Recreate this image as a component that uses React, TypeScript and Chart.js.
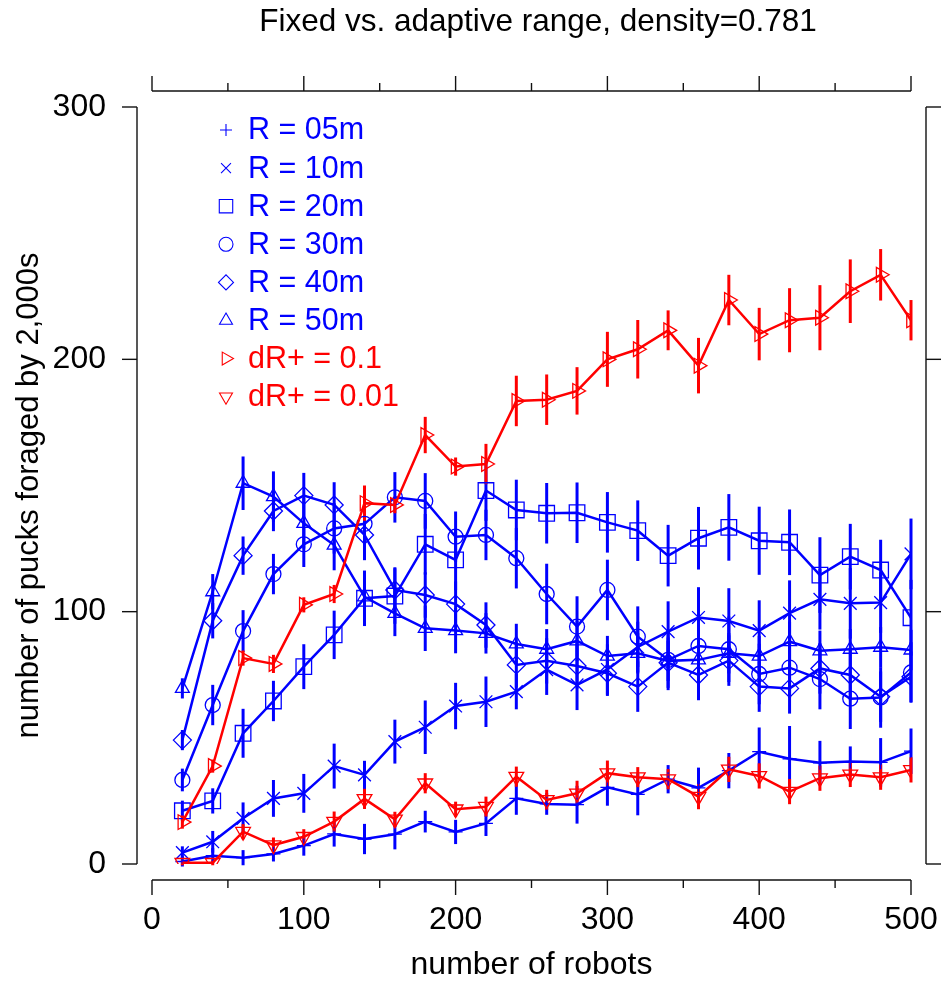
import React, { useEffect, useRef } from 'react';
import { Chart, registerables } from 'chart.js';

Chart.register(...registerables);

// ---------- data ----------
const robots = [20, 40, 60, 80, 100, 120, 140, 160, 180, 200, 220, 240, 260, 280, 300, 320, 340, 360, 380, 400, 420, 440, 460, 480, 500];

const r05 = [1, 3.3, 2.5, 4, 7.3, 11.9, 9.9, 11.8, 16.8, 12.7, 16.1, 26, 23.8, 23.5, 30.4, 27.6, 33.6, 30.2, 37, 44.5, 41.7, 40.1, 40.6, 40.3, 44.7];
const r10 = [4.5, 8.8, 18.1, 26, 28, 38.8, 35.3, 48.5, 54.2, 62.6, 64.3, 68.3, 77, 71, 77.1, 86, 92.1, 97.7, 96.3, 92.5, 99.4, 104.9, 103.3, 103.6, 122.9];
const r20 = [21.1, 25, 51.8, 64.6, 78.2, 90.8, 105.3, 106.2, 126.7, 120.5, 148, 140.3, 139, 139.2, 135.4, 132.1, 122.2, 129.1, 133.4, 128.1, 127.5, 114.5, 121.8, 116.5, 97.6];
const r30 = [33.3, 63, 92.3, 114.9, 126.7, 133, 134.8, 145.3, 143.9, 129.7, 130.4, 121.2, 107, 94.1, 108.6, 90.1, 80.9, 86.4, 85.1, 75.3, 77.8, 73.3, 65.5, 66, 75.9];
const r40 = [49.1, 96.4, 122.2, 139.9, 146, 142.3, 130.4, 108.6, 106.6, 103, 94.7, 78.9, 80.5, 78.5, 75.6, 70.3, 79.8, 74.9, 80.6, 70.3, 69.6, 77.5, 74.9, 66.3, 74.2];
const r50 = [69.6, 107.9, 150.9, 145.6, 135, 126.4, 105.9, 99.3, 93.4, 92.5, 91.4, 87.2, 85.1, 88.4, 82.4, 83.5, 80.5, 80.9, 83.5, 82.4, 88.1, 84.5, 85.1, 85.9, 84.8];
const dr1 = [16.6, 38.8, 81.6, 79.3, 102.7, 107, 143, 142.3, 170, 157.5, 158.5, 183.5, 184, 187.5, 200, 204, 211.5, 197.5, 223.5, 210, 215.5, 216.5, 227, 233.5, 215.5];
const dr01 = [0.5, 0.5, 12.8, 7.5, 10.8, 16.8, 25.8, 17.7, 32, 21.7, 22.7, 34.6, 25.4, 28, 36, 34.4, 33.6, 26.7, 37.5, 34.9, 28.7, 34, 35.5, 34.4, 37.3];

const e05 = [2, 3, 3, 3, 4, 5, 6, 6, 4.3, 4.8, 5, 6.5, 4.3, 7.5, 7.3, 8.3, 5.6, 8, 7, 9.6, 13, 8.7, 6, 9.6, 9];
const e10 = [2.5, 4.3, 6.3, 7.3, 7.7, 8.9, 5.6, 8.7, 10.6, 9.2, 10, 7, 10, 10, 10, 10, 12, 12, 13, 12, 13, 12, 14, 12, 14];
const e20 = [4, 5, 9.7, 8, 8.9, 9.6, 11, 11, 12, 12, 12, 12, 12, 12, 12, 12, 12.2, 12.4, 13.2, 13.5, 13, 15, 13, 12, 15];
const e30 = [4.5, 8, 8.3, 8, 9, 10, 10, 10, 11, 10, 10, 12, 12, 12, 12, 12, 12, 12, 13, 12, 12, 12, 12, 12, 12];
const e40 = [4, 7, 7.6, 8, 9, 9, 10, 9, 9, 9, 9, 9, 9, 9, 9, 10, 10, 10, 10, 10, 10, 10, 10, 10, 10];
const e50 = [4, 7, 10.6, 10, 10, 10, 10, 9, 9, 9, 8, 8, 8, 8, 8, 8, 8, 8, 8, 8, 8, 8, 8, 8, 8];
const edr1 = [2.6, 2.6, 3, 3.6, 3, 3.6, 7, 3.3, 7.2, 3.6, 8, 10, 10, 9.4, 10.9, 11.6, 7.9, 11, 10, 10.4, 12.7, 12.9, 12.6, 10.2, 8];
const edr01 = [1, 1, 3, 3, 3, 4, 4, 3, 4, 3, 4, 4, 4, 5, 5, 4, 4, 5, 5, 5, 5, 5, 5, 5, 5];

const seriesLabels = ['R = 05m', 'R = 10m', 'R = 20m', 'R = 30m', 'R = 40m', 'R = 50m', 'dR+ = 0.1', 'dR+ = 0.01'];
const seriesValues = [r05, r10, r20, r30, r40, r50, dr1, dr01];
const seriesErrors = [e05, e10, e20, e30, e40, e50, edr1, edr01];

const titleText = 'Fixed vs. adaptive range, density=0.781';
const xTitle = 'number of robots';
const yTitle = 'number of pucks foraged by 2,000s';

// ---------- styles ----------
const BLUE = '#0000ff';
const RED = '#ff0000';
const FONT = '"Liberation Sans", Arial, Helvetica, sans-serif';
const styles = [
  { color: BLUE, point: 'cross', radius: 7, rot: 0, lr: 6 },
  { color: BLUE, point: 'crossRot', radius: 9, rot: 0, lr: 7 },
  { color: BLUE, point: 'rect', radius: 11, rot: 0, lr: 9.5 },
  { color: BLUE, point: 'circle', radius: 7.5, rot: 0, lr: 7 },
  { color: BLUE, point: 'rectRot', radius: 9, rot: 0, lr: 7.5 },
  { color: BLUE, point: 'triangle', radius: 8, rot: 0, lr: 7.5 },
  { color: RED, point: 'triangle', radius: 8.5, rot: 90, lr: 7.5 },
  { color: RED, point: 'triangle', radius: 8.5, rot: 180, lr: 7.5 },
];

function drawMarker(ctx: CanvasRenderingContext2D, style: string, x: number, y: number, r: number, rotDeg: number) {
  ctx.beginPath();
  let rad = (rotDeg * Math.PI) / 180;
  switch (style) {
    case 'cross':
      ctx.moveTo(x - r, y); ctx.lineTo(x + r, y);
      ctx.moveTo(x, y - r); ctx.lineTo(x, y + r);
      break;
    case 'crossRot': {
      const d = r * Math.SQRT1_2;
      ctx.moveTo(x - d, y - d); ctx.lineTo(x + d, y + d);
      ctx.moveTo(x - d, y + d); ctx.lineTo(x + d, y - d);
      break;
    }
    case 'rect': {
      const s = r * Math.SQRT1_2;
      ctx.rect(x - s, y - s, 2 * s, 2 * s);
      break;
    }
    case 'circle':
      ctx.arc(x, y, r, 0, Math.PI * 2);
      break;
    case 'rectRot':
      ctx.moveTo(x - r, y); ctx.lineTo(x, y - r); ctx.lineTo(x + r, y); ctx.lineTo(x, y + r); ctx.closePath();
      break;
    case 'triangle':
      ctx.moveTo(x + Math.sin(rad) * r, y - Math.cos(rad) * r);
      rad += (2 * Math.PI) / 3;
      ctx.lineTo(x + Math.sin(rad) * r, y - Math.cos(rad) * r);
      rad += (2 * Math.PI) / 3;
      ctx.lineTo(x + Math.sin(rad) * r, y - Math.cos(rad) * r);
      ctx.closePath();
      break;
  }
  ctx.stroke();
}

const errorBarPlugin = {
  id: 'errorBars',
  beforeDatasetsDraw(chart: any) {
    const { ctx, scales } = chart;
    const xs = scales.x, ys = scales.y;
    ctx.save();
    ctx.lineWidth = 3;
    ctx.lineCap = 'butt';
    seriesValues.forEach((vals, i) => {
      ctx.strokeStyle = styles[i].color;
      const errs = seriesErrors[i];
      vals.forEach((v, j) => {
        const px = xs.getPixelForValue(robots[j]);
        ctx.beginPath();
        ctx.moveTo(px, ys.getPixelForValue(v - errs[j]));
        ctx.lineTo(px, ys.getPixelForValue(v + errs[j]));
        ctx.stroke();
      });
    });
    ctx.restore();
  },
};

const framePlugin = {
  id: 'frame',
  afterDraw(chart: any) {
    const { ctx, chartArea: ca, scales } = chart;
    const xs = scales.x, ys = scales.y;
    ctx.save();
    ctx.strokeStyle = '#111';
    ctx.lineWidth = 1.4;
    const gap = 16;
    const by = ca.bottom + gap, ty = ca.top - gap, lx = ca.left - 15, rx = ca.right + 15;
    const line = (a: number, b: number, c: number, d: number) => { ctx.beginPath(); ctx.moveTo(a, b); ctx.lineTo(c, d); ctx.stroke(); };
    // horizontal axes
    line(ca.left, by, ca.right, by);
    line(ca.left, ty, ca.right, ty);
    const xv = xs.ticks.map((t: any) => t.value);
    xv.forEach((v: number, k: number) => {
      const px = xs.getPixelForValue(v);
      line(px, by, px, by + 15);
      line(px, ty, px, ty - 15);
      if (k < xv.length - 1) {
        const mx = xs.getPixelForValue((v + xv[k + 1]) / 2);
        line(mx, by, mx, by + 8);
        line(mx, ty, mx, ty - 8);
      }
    });
    // vertical axes
    line(lx, ca.top, lx, ca.bottom);
    line(rx, ca.top, rx, ca.bottom);
    ys.ticks.forEach((t: any) => {
      const py = ys.getPixelForValue(t.value);
      line(lx, py, lx - 15, py);
      line(rx, py, rx + 15, py);
    });
    // title
    ctx.fillStyle = '#000';
    ctx.font = `31.5px ${FONT}`;
    ctx.textAlign = 'center';
    ctx.textBaseline = 'middle';
    ctx.fillText(titleText, 538, 22);
    // y axis title
    ctx.save();
    ctx.translate(29, (ca.top + ca.bottom) / 2 + 10);
    ctx.rotate(-Math.PI / 2);
    ctx.font = `31px ${FONT}`;
    ctx.fillText(yTitle, 0, 0);
    ctx.restore();
    // legend
    ctx.font = `30.5px ${FONT}`;
    ctx.textAlign = 'left';
    seriesLabels.forEach((lab, i) => {
      const cy = ca.top + 23 + i * 38.1;
      ctx.strokeStyle = styles[i].color;
      ctx.lineWidth = 1.1;
      drawMarker(ctx, styles[i].point, ca.left + 74, cy, styles[i].lr, styles[i].rot);
      ctx.fillStyle = styles[i].color;
      ctx.fillText(lab, ca.left + 96, cy + 1);
    });
    ctx.restore();
  },
};

export default function App() {
  const ref = useRef<HTMLCanvasElement | null>(null);
  useEffect(() => {
    if (!ref.current) return;
    const datasets = seriesValues.map((vals, i) => ({
      label: seriesLabels[i],
      data: vals.map((v, j) => ({ x: robots[j], y: v })),
      borderColor: styles[i].color,
      backgroundColor: 'rgba(0,0,0,0)',
      borderWidth: 2.5,
      pointStyle: styles[i].point as any,
      pointRadius: styles[i].radius,
      pointRotation: styles[i].rot,
      pointBorderWidth: 1.3,
      pointBorderColor: styles[i].color,
      pointBackgroundColor: 'rgba(0,0,0,0)',
      tension: 0,
      fill: false,
      order: i >= 6 ? 0 : 1,
    }));
    const chart = new Chart(ref.current, {
      type: 'line',
      data: { datasets },
      options: {
        responsive: false,
        animation: false,
        layout: { padding: { left: 0, right: 30, top: 107, bottom: 0 } },
        plugins: { legend: { display: false }, tooltip: { enabled: false }, title: { display: false } },
        scales: {
          x: {
            type: 'linear', min: 0, max: 500, position: 'bottom',
            ticks: { stepSize: 100, font: { family: FONT, size: 32 }, color: '#000', padding: 0, maxRotation: 0, autoSkip: false },
            grid: { display: true, drawOnChartArea: false, drawTicks: true, tickLength: 37, color: 'rgba(0,0,0,0)' },
            border: { display: false },
            title: { display: true, text: xTitle, font: { family: FONT, size: 32 }, color: '#000', padding: { top: 0, bottom: 0 } },
            afterFit: (s: any) => { s.height = 120; },
          },
          y: {
            type: 'linear', min: 0, max: 300,
            ticks: { stepSize: 100, font: { family: FONT, size: 32 }, color: '#000', padding: 46 },
            grid: { display: false, drawTicks: false },
            border: { display: false },
            title: { display: false, text: yTitle },
            afterFit: (s: any) => { s.width = 152; },
          },
        },
      },
      plugins: [errorBarPlugin, framePlugin],
    });
    return () => chart.destroy();
  }, []);
  return (
    <div style={{ position: 'fixed', left: 0, top: 0, width: 941, height: 984, background: '#fff' }}>
      <canvas ref={ref} width={941} height={984} />
    </div>
  );
}
